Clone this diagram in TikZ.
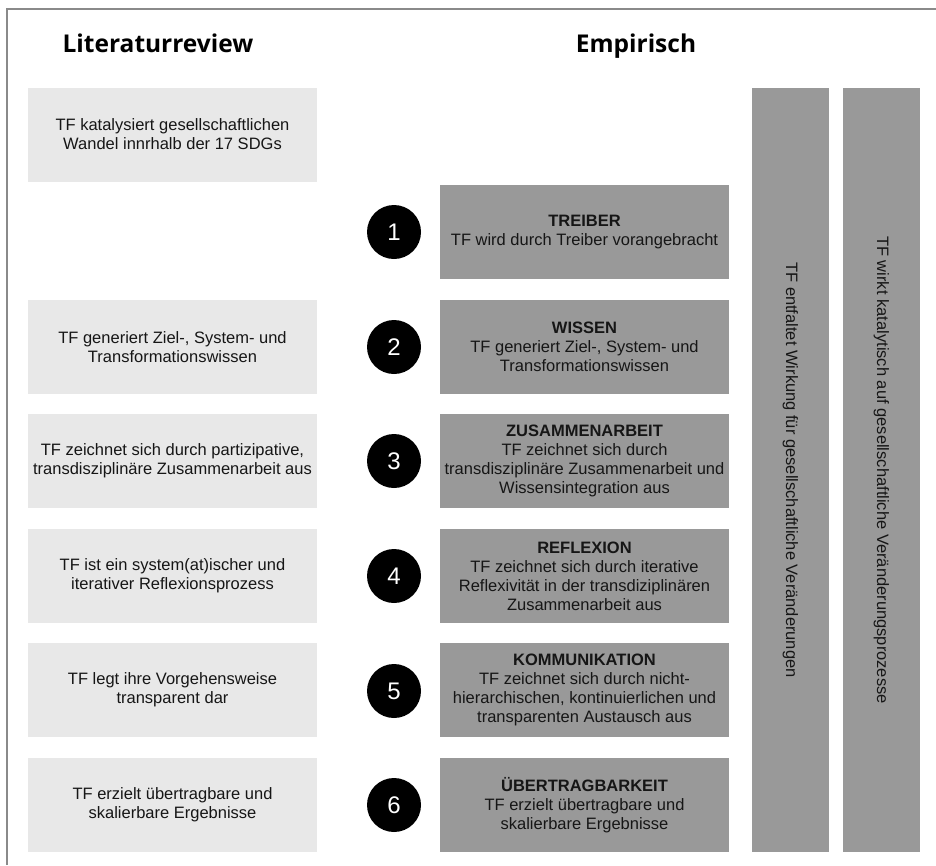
\documentclass[tikz,border=0pt]{standalone}
\usepackage{fontspec}
\setmainfont{Liberation Sans}
\newfontfamily\headfont{Open Sans}
\definecolor{lightbox}{HTML}{E8E8E8}
\definecolor{darkbox}{HTML}{999999}
\definecolor{framegray}{HTML}{8A8A8A}
\definecolor{inktext}{HTML}{161616}
\begin{document}
\begin{tikzpicture}[x=1pt,y=-1pt,
  heading/.style={font=\headfont\bfseries\fontsize{24.5}{28}\selectfont, text=black, anchor=base},
  litbox/.style={rectangle, fill=lightbox, minimum width=289pt, minimum height=94pt,
    inner sep=0pt, align=center, text=inktext, font=\fontsize{16.5}{19}\selectfont},
  empbox/.style={rectangle, fill=darkbox, minimum width=289pt, minimum height=94pt,
    inner sep=0pt, align=center, text=inktext, font=\fontsize{16.5}{19}\selectfont},
  numdot/.style={circle, fill=black, minimum size=54pt, inner sep=0pt,
    text=white, font=\fontsize{24}{24}\selectfont},
  sidebar/.style={rectangle, fill=darkbox, minimum width=77pt, minimum height=764pt,
    inner sep=0pt},
  bartext/.style={rotate=-90, text=inktext, font=\fontsize{16.5}{19}\selectfont}
]
\useasboundingbox (0,0) rectangle (936,865);
\fill[white] (0,0) rectangle (936,865);
% frame lines
\draw[framegray, line width=2pt] (7,865) -- (7,9) -- (936,9);

% column headings
\node[heading] (hlit) at (158,52) {Literaturreview};
\node[heading] (hemp) at (636,52) {Empirisch};

% literature column
\node[litbox] (l0) at (172.5,134.5) {TF katalysiert gesellschaftlichen\\Wandel innrhalb der 17 SDGs};
\node[litbox] (l2) at (172.5,347) {TF generiert Ziel-, System- und\\Transformationswissen};
\node[litbox] (l3) at (172.5,461) {TF zeichnet sich durch partizipative,\\transdisziplinäre Zusammenarbeit aus};
\node[litbox] (l4) at (172.5,576) {TF ist ein system(at)ischer und\\iterativer Reflexionsprozess};
\node[litbox] (l5) at (172.5,690) {TF legt ihre Vorgehensweise\\transparent dar};
\node[litbox] (l6) at (172.5,805) {TF erzielt übertragbare und\\skalierbare Ergebnisse};

% numbered markers
\node[numdot] (n1) at (394,232) {1};
\node[numdot] (n2) at (394,347) {2};
\node[numdot] (n3) at (394,461) {3};
\node[numdot] (n4) at (394,576) {4};
\node[numdot] (n5) at (394,691) {5};
\node[numdot] (n6) at (394,805) {6};

% empirical column
\node[empbox] (e1) at (584.5,232) {\textbf{TREIBER}\\TF wird durch Treiber vorangebracht};
\node[empbox] (e2) at (584.5,347) {\textbf{WISSEN}\\TF generiert Ziel-, System- und\\Transformationswissen};
\node[empbox] (e3) at (584.5,461) {\textbf{ZUSAMMENARBEIT}\\TF zeichnet sich durch\\transdisziplinäre Zusammenarbeit und\\Wissensintegration aus};
\node[empbox] (e4) at (584.5,576) {\textbf{REFLEXION}\\TF zeichnet sich durch iterative\\Reflexivität in der transdiziplinären\\Zusammenarbeit aus};
\node[empbox] (e5) at (584.5,690) {\textbf{KOMMUNIKATION}\\TF zeichnet sich durch nicht-\\hierarchischen, kontinuierlichen und\\transparenten Austausch aus};
\node[empbox] (e6) at (584.5,805) {\textbf{ÜBERTRAGBARKEIT}\\TF erzielt übertragbare und\\skalierbare Ergebnisse};

% vertical bars
\node[sidebar] (b1) at (790.5,470) {};
\node[sidebar] (b2) at (881.5,470) {};
\node[bartext] (t1) at (b1.center) {TF entfaltet Wirkung für gesellschaftliche Veränderungen};
\node[bartext] (t2) at (b2.center) {TF wirkt katalytisch auf gesellschaftliche Veränderungsprozesse};
\end{tikzpicture}
\end{document}
